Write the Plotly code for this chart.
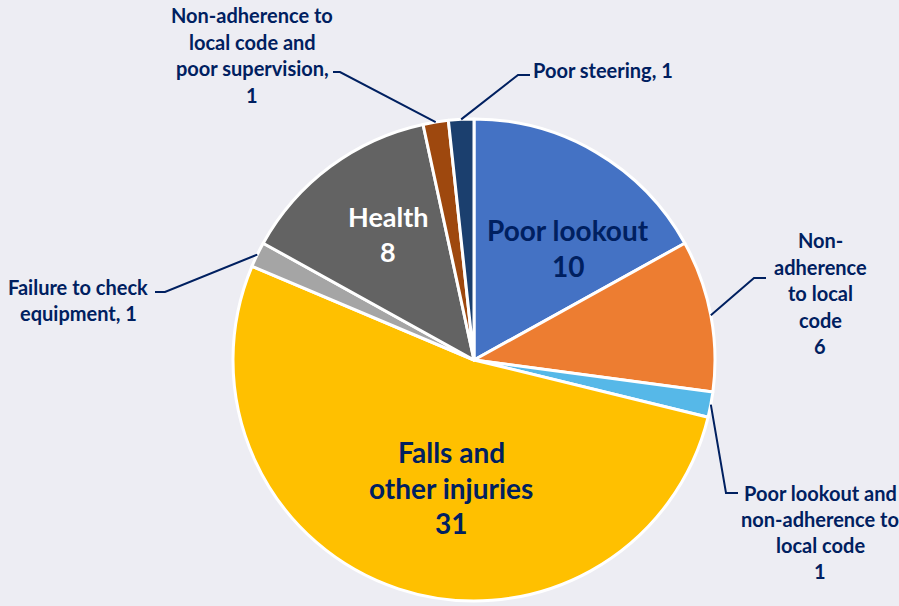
import math
import plotly.graph_objects as go

categories = [
    "Poor lookout",
    "Non-adherence to local code",
    "Poor lookout and non-adherence to local code",
    "Falls and other injuries",
    "Failure to check equipment",
    "Health",
    "Non-adherence to local code and poor supervision",
    "Poor steering",
]
values = [10, 6, 1, 31, 1, 8, 1, 1]
colors = ["#4472C4", "#ED7D31", "#56B8E8", "#FFC000", "#A5A5A5", "#636363", "#9E480E", "#1B3F6E"]

W, H = 899, 606
CX, CY, R = 474, 360, 241
NAVY = "#002060"
BG = "#EDEDF3"
FONT = "Lato"

fig = go.Figure(go.Pie(
    labels=categories, values=values, sort=False, direction="clockwise", rotation=0,
    marker=dict(colors=colors, line=dict(color="white", width=3)),
    textinfo="none", hoverinfo="label+value", showlegend=False,
    domain=dict(x=[(CX - R) / W, (CX + R) / W], y=[1 - (CY + R) / H, 1 - (CY - R) / H]),
))

def px2paper(x, y):
    return x / W, 1 - y / H

total = sum(values)
cum = 0
edge = []
for v in values:
    th = 2 * math.pi * (cum + v / 2) / total
    edge.append((CX + R * math.sin(th), CY - R * math.cos(th)))
    cum += v

outside = [
    (1, (754, 278), (766, 278), ["Non-", "adherence", "to local", "code", "6"], 820, 240, 26.5),
    (2, (726, 493), (738, 493), ["Poor lookout and", "non-adherence to", "local code", "1"], 820, 493, 26),
    (4, (165, 292), (155, 292), ["Failure to check", "equipment, 1"], 78, 287, 26),
    (6, (340, 72), (333, 72), ["Non-adherence to", "local code and", "poor supervision,", "1"], 252, 15, 26.5),
    (7, (518, 75), (530, 75), ["Poor steering, 1"], 603, 70, 26),
]

shapes = []
annotations = []
for idx, elbow, end, lines, tx, ty, step in outside:
    pts = [edge[idx], elbow, end]
    path = "M " + " L ".join(f"{px2paper(x, y)[0]},{px2paper(x, y)[1]}" for x, y in pts)
    shapes.append(dict(type="path", xref="paper", yref="paper", path=path,
                       line=dict(color=NAVY, width=2)))
    for k, t in enumerate(lines):
        x, y = px2paper(tx, ty + k * step)
        annotations.append(dict(x=x, y=y, xref="paper", yref="paper", text=f"<b>{t}</b>",
                                showarrow=False, xanchor="center", yanchor="middle",
                                font=dict(family=FONT, size=20, color=NAVY)))

inside = [
    (["Poor lookout", "10"], 568, 230, 36, NAVY, 28),
    (["Health", "8"], 388, 217, 35, "white", 27),
    (["Falls and", "other injuries", "31"], 451, 452, 35.5, NAVY, 28),
]
for lines, tx, ty, step, col, size in inside:
    for k, t in enumerate(lines):
        x, y = px2paper(tx, ty + k * step)
        annotations.append(dict(x=x, y=y, xref="paper", yref="paper", text=f"<b>{t}</b>",
                                showarrow=False, xanchor="center", yanchor="middle",
                                font=dict(family=FONT, size=size, color=col)))

fig.update_layout(
    width=W, height=H, margin=dict(l=0, r=0, t=0, b=0),
    paper_bgcolor=BG, plot_bgcolor=BG,
    shapes=shapes, annotations=annotations,
)
fig.write_html("out.html", config={"displayModeBar": False},
               post_script="document.body.style.margin='0';document.body.style.padding='0';")
